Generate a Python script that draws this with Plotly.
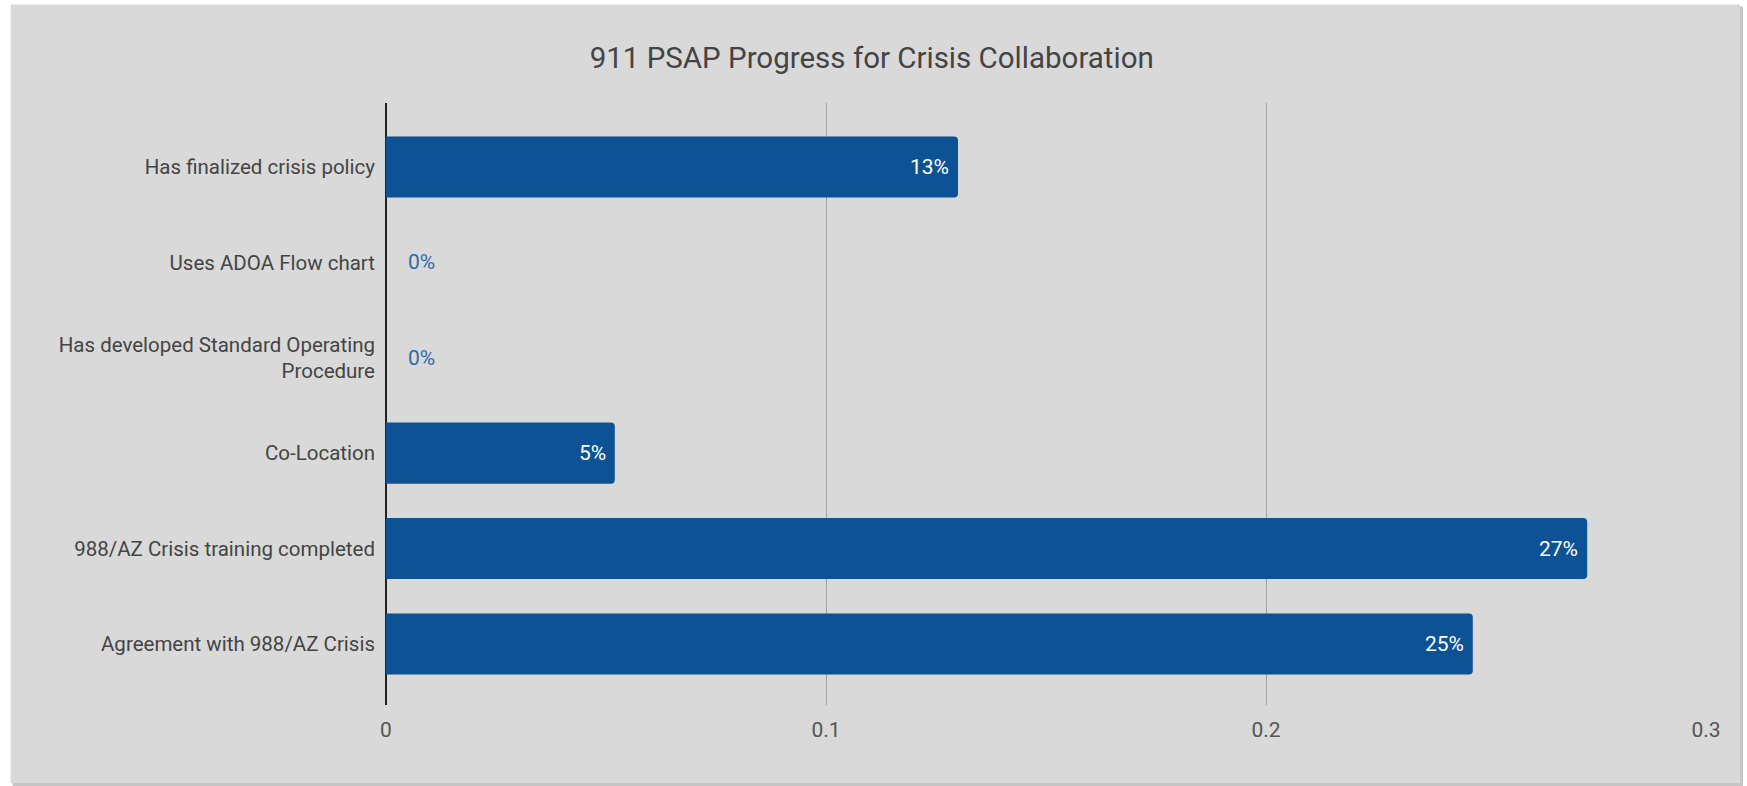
import plotly.graph_objects as go

categories = [
    "Has finalized crisis policy",
    "Uses ADOA Flow chart",
    "Has developed Standard Operating<br>Procedure",
    "Co-Location",
    "988/AZ Crisis training completed",
    "Agreement with 988/AZ Crisis",
]
values = [0.13, 0.0, 0.0, 0.052, 0.273, 0.247]
labels = [f"{round(v * 100)}%" for v in values]
x_ticks = [0, 0.1, 0.2, 0.3]
x_tick_text = ["0", "0.1", "0.2", "0.3"]

W, H = 1747, 786
L, R, T, B = 385.5, 41, 102.5, 81
FONT = "Roboto, Arial, sans-serif"
BAR = "#0d5294"


def px_x(p):
    return (p - L) / (W - L - R)


def px_y(p):
    return 1 - (p - T) / (H - T - B)


fig = go.Figure()
fig.add_trace(go.Bar(
    y=categories, x=values, orientation="h",
    marker=dict(color=BAR, cornerradius=4, line=dict(width=0)),
    width=0.64, hoverinfo="x+y",
))

annotations = []
for c, v, t in zip(categories, values, labels):
    if v > 0:
        annotations.append(dict(x=v, y=c, xref="x", yref="y", text=t, showarrow=False,
                                xanchor="right", xshift=-7,
                                font=dict(family=FONT, size=21, color="white")))
    else:
        annotations.append(dict(x=v, y=c, xref="x", yref="y", text=t, showarrow=False,
                                xanchor="left", xshift=20,
                                font=dict(family=FONT, size=21, color="#3468a8")))

shapes = [
    # shadow
    dict(type="rect", xref="paper", yref="paper", layer="below",
         x0=px_x(12), x1=px_x(1743), y0=px_y(786), y1=px_y(6),
         fillcolor="#c6c6c6", line=dict(width=0)),
    # card
    dict(type="rect", xref="paper", yref="paper", layer="below",
         x0=px_x(10), x1=px_x(1740), y0=px_y(783), y1=px_y(4),
         fillcolor="#d9d9d9", line=dict(width=0)),
]

fig.update_layout(
    width=W, height=H,
    margin=dict(l=L, r=R, t=T, b=B, pad=0),
    paper_bgcolor="white",
    plot_bgcolor="rgba(0,0,0,0)",
    showlegend=False,
    title=dict(text="911 PSAP Progress for Crisis Collaboration",
               x=0.499, xref="container", xanchor="center",
               y=1 - 58 / H, yref="container", yanchor="middle",
               font=dict(family=FONT, size=29.5, color="#444444")),
    font=dict(family=FONT, size=20, color="#444444"),
    xaxis=dict(range=[0, 0.3], tickvals=x_ticks, ticktext=x_tick_text,
               showgrid=True, gridcolor="#a0a0a0", gridwidth=1.2,
               zeroline=True, zerolinecolor="#222222", zerolinewidth=1.5,
               showline=False, ticks="", ticklabelstandoff=10,
               tickfont=dict(family=FONT, size=21, color="#555555")),
    yaxis=dict(categoryorder="array", categoryarray=categories,
               range=[5.64, -0.67], showgrid=False, zeroline=False,
               showline=False, ticks="", ticklabelstandoff=10,
               tickfont=dict(family=FONT, size=20.5, color="#444444")),
    annotations=annotations,
    shapes=shapes,
    bargap=0.36,
)

fig.write_html("out.html", config={"displayModeBar": False},
               post_script="document.body.style.margin='0';")
